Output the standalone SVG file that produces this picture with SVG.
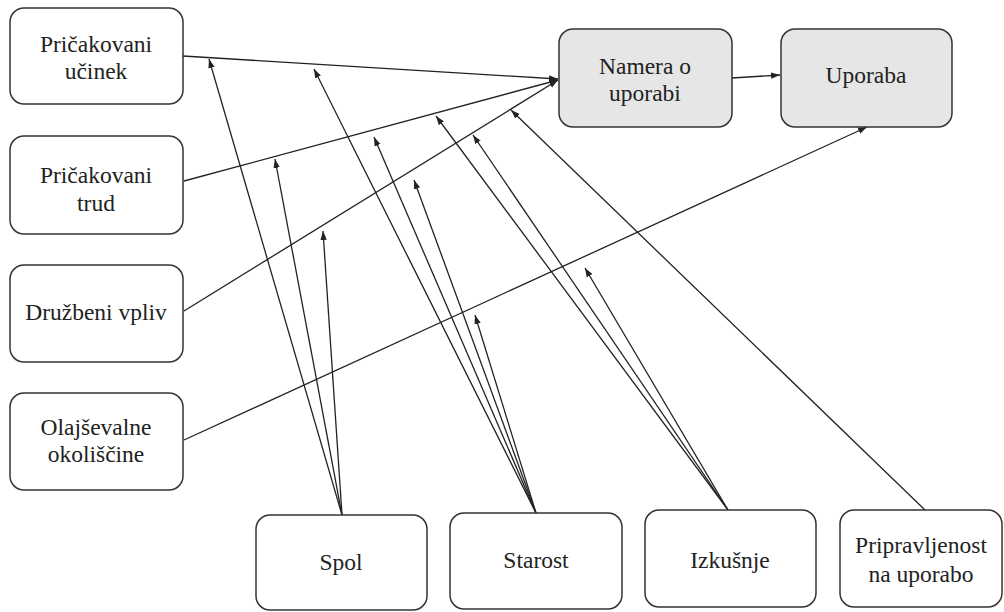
<svg xmlns="http://www.w3.org/2000/svg" width="1004" height="612" viewBox="0 0 1004 612">
  <defs>
    <marker id="arrow" markerUnits="userSpaceOnUse" markerWidth="10" markerHeight="8" viewBox="0 0 10 8" refX="9" refY="4" orient="auto">
      <path d="M0,0.8 L9,4 L0,7.2 Z" fill="#222222"/>
    </marker>
  </defs>
  <rect width="1004" height="612" fill="#ffffff"/>

  <!-- connectors -->
  <g id="connectors" fill="none" stroke="#222222" stroke-width="1.3" marker-end="url(#arrow)">
    <path d="M183,56 L558,79"/>
    <path d="M184,181 L558,80"/>
    <path d="M184,311 L558,80"/>
    <path d="M184,440 L867,127"/>
    <path d="M732,78 L780,75"/>
    <!-- Spol -->
    <path d="M342,515 L209,59"/>
    <path d="M342,515 L275,159"/>
    <path d="M342,515 L323,231"/>
    <!-- Starost -->
    <path d="M536,513 L314,69"/>
    <path d="M536,513 L374,137"/>
    <path d="M536,513 L414,180"/>
    <path d="M536,513 L475,315"/>
    <!-- Izkušnje -->
    <path d="M728,510 L436,116"/>
    <path d="M728,510 L473,135"/>
    <path d="M728,510 L585,268"/>
    <!-- Pripravljenost na uporabo -->
    <path d="M925,510 L511,110"/>
  </g>

  <g id="nodes" stroke="#333333" stroke-width="1.5">
    <g id="pricakovani-ucinek">
      <rect fill="#ffffff" x="10" y="8" width="173" height="96" rx="14"/>
      <text font-family="Liberation Serif" font-size="23.5" fill="#222222" stroke="none" text-anchor="middle" x="96" y="52">Pričakovani</text>
      <text font-family="Liberation Serif" font-size="23.5" fill="#222222" stroke="none" text-anchor="middle" x="96" y="79">učinek</text>
    </g>
    <g id="pricakovani-trud">
      <rect fill="#ffffff" x="10" y="136" width="173" height="98" rx="14"/>
      <text font-family="Liberation Serif" font-size="23.5" fill="#222222" stroke="none" text-anchor="middle" x="96" y="183">Pričakovani</text>
      <text font-family="Liberation Serif" font-size="23.5" fill="#222222" stroke="none" text-anchor="middle" x="96" y="211">trud</text>
    </g>
    <g id="druzbeni-vpliv">
      <rect fill="#ffffff" x="10" y="265" width="173" height="97" rx="14"/>
      <text font-family="Liberation Serif" font-size="23.5" fill="#222222" stroke="none" text-anchor="middle" x="96" y="320">Družbeni vpliv</text>
    </g>
    <g id="olajsevalne-okoliscine">
      <rect fill="#ffffff" x="10" y="393" width="173" height="97" rx="14"/>
      <text font-family="Liberation Serif" font-size="23.5" fill="#222222" stroke="none" text-anchor="middle" x="96" y="435">Olajševalne</text>
      <text font-family="Liberation Serif" font-size="23.5" fill="#222222" stroke="none" text-anchor="middle" x="96" y="462">okoliščine</text>
    </g>
    <g id="namera-o-uporabi">
      <rect fill="#e6e6e6" x="559" y="29" width="173" height="98" rx="14"/>
      <text font-family="Liberation Serif" font-size="23.5" fill="#222222" stroke="none" text-anchor="middle" x="645" y="74">Namera o</text>
      <text font-family="Liberation Serif" font-size="23.5" fill="#222222" stroke="none" text-anchor="middle" x="645" y="101">uporabi</text>
    </g>
    <g id="uporaba">
      <rect fill="#e6e6e6" x="781" y="29" width="171" height="98" rx="14"/>
      <text font-family="Liberation Serif" font-size="23.5" fill="#222222" stroke="none" text-anchor="middle" x="866" y="83">Uporaba</text>
    </g>
    <g id="spol">
      <rect fill="#ffffff" x="256" y="515" width="171" height="95" rx="14"/>
      <text font-family="Liberation Serif" font-size="23.5" fill="#222222" stroke="none" text-anchor="middle" x="341" y="570">Spol</text>
    </g>
    <g id="starost">
      <rect fill="#ffffff" x="450" y="513" width="172" height="96" rx="14"/>
      <text font-family="Liberation Serif" font-size="23.5" fill="#222222" stroke="none" text-anchor="middle" x="536" y="568">Starost</text>
    </g>
    <g id="izkusnje">
      <rect fill="#ffffff" x="645" y="510" width="171" height="97" rx="14"/>
      <text font-family="Liberation Serif" font-size="23.5" fill="#222222" stroke="none" text-anchor="middle" x="730" y="568">Izkušnje</text>
    </g>
    <g id="pripravljenost">
      <rect fill="#ffffff" x="840" y="510" width="162" height="97" rx="14"/>
      <text font-family="Liberation Serif" font-size="23.5" fill="#222222" stroke="none" text-anchor="middle" x="921" y="553">Pripravljenost</text>
      <text font-family="Liberation Serif" font-size="23.5" fill="#222222" stroke="none" text-anchor="middle" x="921" y="582">na uporabo</text>
    </g>
  </g>
</svg>
